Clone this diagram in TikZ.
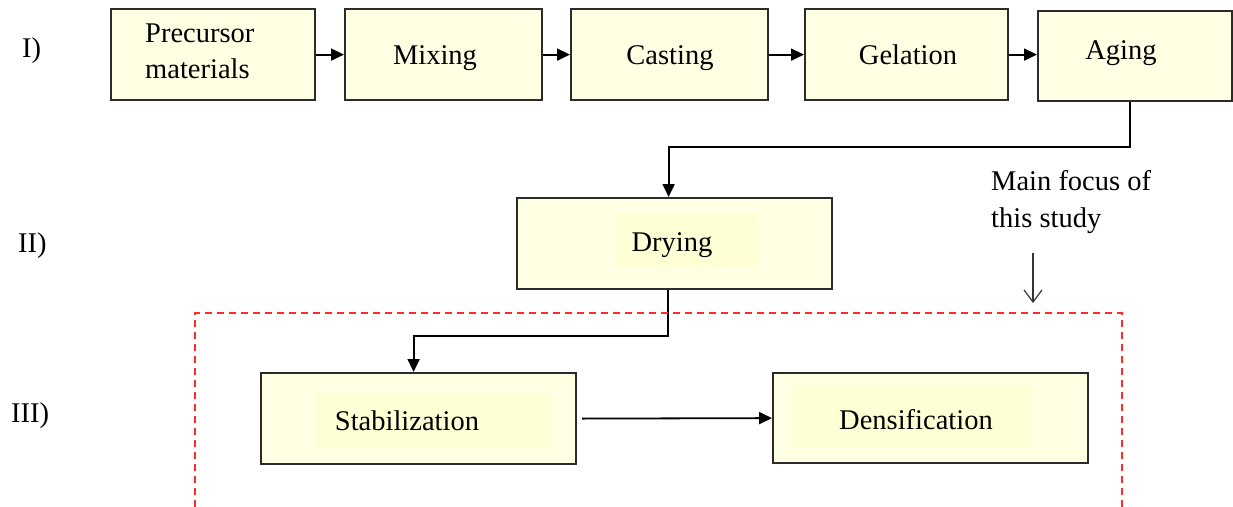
\documentclass[tikz,border=0pt]{standalone}
\usepackage{fontspec}
\setmainfont{Liberation Serif}
\usetikzlibrary{arrows.meta}
\definecolor{boxfill}{HTML}{FFFFE3}
\definecolor{hlfill}{HTML}{FFFFD6}
\definecolor{boxline}{HTML}{2B2B2B}
\definecolor{focusred}{HTML}{FF2A2A}
\tikzset{
  box/.style={draw=boxline, line width=2.2pt, fill=boxfill, inner sep=0pt, anchor=north west},
  txt/.style={font=\fontsize{28.5}{36}\selectfont, inner sep=0pt, anchor=base},
  flow/.style={draw=black, line width=1.8pt, -{Triangle[length=13pt,width=12pt]}},
  hl/.style={fill=hlfill, draw=none},
  focusbox/.style={draw=focusred, line width=1.5pt, dash pattern=on 7pt off 5pt},
  focusarrow/.style={draw=black!80, line width=1.2pt, -{Straight Barb[length=12pt,width=18pt]}},
}
\begin{document}
\begin{tikzpicture}[x=1pt,y=-1pt]
\useasboundingbox (0,0) rectangle (1233,506);
% row I
\node[box, minimum width=204pt, minimum height=91pt] (pre) at (110,8) {};
\node[box, minimum width=197pt, minimum height=91pt] (mix) at (344,8) {};
\node[box, minimum width=197pt, minimum height=91pt] (cast) at (570,8) {};
\node[box, minimum width=203pt, minimum height=91pt] (gel) at (804,8) {};
\node[box, minimum width=194pt, minimum height=90pt] (aging) at (1037,10) {};
% row II
\node[box, minimum width=315pt, minimum height=91pt] (dry) at (516,197) {};
% row III
\node[box, minimum width=315pt, minimum height=91pt] (stab) at (260,372) {};
\node[box, minimum width=315pt, minimum height=90pt] (dens) at (772,372) {};
% inner highlights
\fill[hl] (615,213) rectangle (758,267);
\fill[hl] (315,394) rectangle (550,448);
\fill[hl] (794,386) rectangle (1031,447);
% texts
\node[txt, anchor=base west, align=left] (tpre) at (145,78) {Precursor\\materials};
\node[txt] (tmix) at (435,64) {Mixing};
\node[txt] (tcast) at (670,64) {Casting};
\node[txt] (tgel) at (908,64) {Gelation};
\node[txt] (taging) at (1121,59) {Aging};
\node[txt] (tdry) at (672,251) {Drying};
\node[txt] (tstab) at (407,430) {Stabilization};
\node[txt] (tdens) at (916,429) {Densification};
% stage labels
\node[txt, anchor=base west] (l1) at (22,57) {I)};
\node[txt, anchor=base west] (l2) at (18,252) {II)};
\node[txt, anchor=base west] (l3) at (11,422) {III)};
% focus note
\node[txt, anchor=base west, align=left] (focus) at (991,227) {Main focus of\\[1pt]this study};
% connectors
\draw[flow] (pre.east) -- (mix.west);
\draw[flow] (mix.east) -- (cast.west);
\draw[flow] (cast.east) -- (gel.west);
\draw[flow] (gel.east) -- (gel.east -| aging.west);
\draw[flow] ([xshift=-5pt]aging.south) -- ++(0,45) -| ([xshift=-6pt]dry.north);
\draw[flow] ([xshift=-7pt]dry.south) -- ++(0,46) -| ([xshift=-5pt]stab.north);
\draw[flow] ([xshift=5pt]stab.east) -- (dens.west);
% dashed focus region (bottom cut off)
\coordinate (fbl) at (195,507);
\coordinate (ftl) at (195,313);
\coordinate (ftr) at (1122,313);
\coordinate (fbr) at (1122,507);
\draw[focusbox] (fbl) -- (ftl) -- (ftr) -- (fbr);
% focus arrow
\coordinate (fa) at (1033,253);
\coordinate (fb) at (1033,303);
\draw[focusarrow] (fa) -- (fb);
\end{tikzpicture}
\end{document}
